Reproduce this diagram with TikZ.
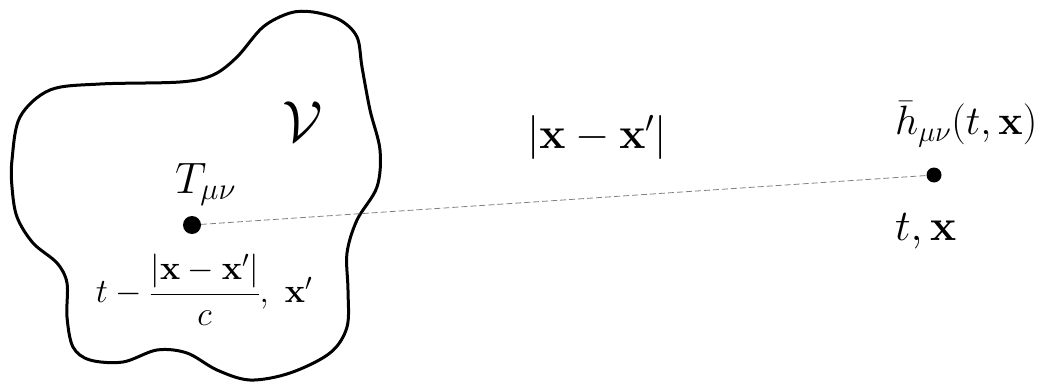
\documentclass[tikz,border=0pt]{standalone}
\usepackage{fix-cm}
\usepackage{amsmath}
\usetikzlibrary{positioning}

\tikzset{
  bigtext/.style={inner sep=0pt, font=\fontsize{44}{50}\selectfont},
  midtext/.style={inner sep=0pt, font=\fontsize{34}{40}\selectfont},
}

\begin{document}
\begin{tikzpicture}[x=1pt, y=-1pt]
  \useasboundingbox (0,0) rectangle (1057,385);

  % Source point and field point
  \coordinate (src) at (192, 225);
  \coordinate (obs) at (934, 175);

  % Source region V
  \draw[line width=3pt, line join=round] plot[smooth cycle, tension=0.55] coordinates {
    (50,90) (100,84) (180,82) (213,75) (237,57) (263,27) (290,13)
    (313,12) (340,20) (357,37) (362,67) (370,110) (380,150)
    (377,187) (357,220) (347,253) (348,290) (347,327) (330,353)
    (290,373) (250,380) (217,370) (187,353) (157,350) (123,362)
    (90,360) (73,347) (67,317) (67,283) (57,263) (33,243)
    (17,217) (12,187) (12,160) (20,117)
  };

  % Distance line
  \draw[gray, line width=0.8pt, dash pattern=on 6pt off 3pt] (src) -- (obs);

  % Mark the points
  \fill[black] (src) circle (9pt);
  \fill[black] (obs) circle (7.5pt);

  % Labels
  \node[inner sep=0pt, font=\fontsize{58}{64}\selectfont] (vol) at (303, 122) {$\mathcal{V}$};
  \node[bigtext, anchor=base west] (tmn) at (175, 193) {$T_{\mu\nu}$};
  \node[midtext] (ret) at (204, 290) {$t-\dfrac{|\mathbf{x}-\mathbf{x}'|}{c},\ \mathbf{x}'$};
  \node[bigtext, anchor=base west] (dist) at (527, 148) {$|\mathbf{x}-\mathbf{x}'|$};
  \node[bigtext, anchor=base west, font=\fontsize{41}{46}\selectfont] (hmn) at (895, 135) {$\bar{h}_{\mu\nu}(t,\mathbf{x})$};
  \node[bigtext, anchor=base west] (tx) at (895, 240) {$t,\mathbf{x}$};

\end{tikzpicture}
\end{document}
